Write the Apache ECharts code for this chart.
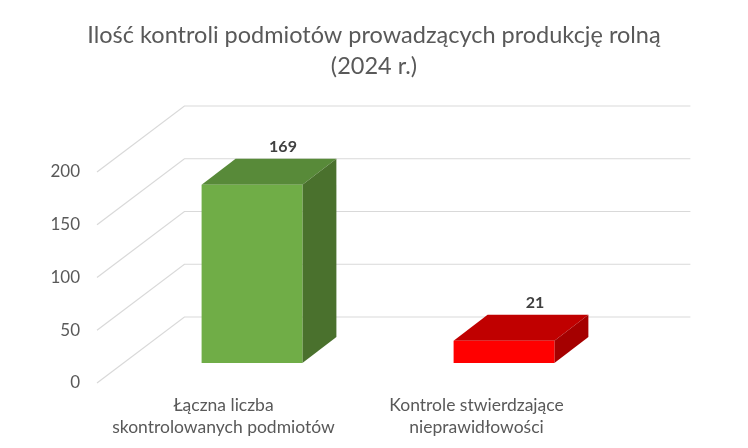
<!DOCTYPE html>
<html><head><meta charset="utf-8">
<script src="https://cdn.jsdelivr.net/npm/echarts@6/dist/echarts.min.js"></script>
<style>html,body{margin:0;padding:0;background:#fff}#c{width:748px;height:448px}</style>
</head><body><div id="c"></div>
<script>
const titleLines = ['Ilość kontroli podmiotów prowadzących produkcję rolną', '(2024 r.)'];
const categories = ['Łączna liczba\nskontrolowanych podmiotów', 'Kontrole stwierdzające\nnieprawidłowości'];
const values = [169, 21];
const yTicks = [0, 50, 100, 150, 200];
const frontColors = ['#70ad47', '#ff0000'];
const topColors = ['#588a39', '#c00000'];
const sideColors = ['#4a712d', '#a50000'];

const FONT = 'Lato, "Open Sans", sans-serif';
const WALL_DX = 87.4, WALL_DY = 66;   // depth of back wall (px)
const BAR_DX = 34, BAR_DY = 26;       // depth of bar (px)

const chart = echarts.init(document.getElementById('c'), null, {renderer: 'canvas'});
chart.setOption({
  animation: false,
  backgroundColor: '#fff',
  title: {
    text: titleLines.join('\n'), left: 'center', top: 15,
    textStyle: {fontFamily: FONT, fontSize: 23.5, fontWeight: 'normal', color: '#595959', lineHeight: 31}
  },
  grid: [
    {left: 97, top: 172, width: 506, height: 211},
    {left: 126, top: 152, width: 504, height: 211}
  ],
  xAxis: [
    {gridIndex: 0, type: 'category', data: categories,
     axisLine: {show: false}, axisTick: {show: false},
     axisLabel: {interval: 0, margin: 11, fontFamily: FONT, fontSize: 17.5, color: '#595959', lineHeight: 22}},
    {gridIndex: 1, type: 'category', data: categories, show: false}
  ],
  yAxis: [
    {gridIndex: 0, type: 'value', min: 0, max: 200, interval: 50,
     axisLine: {show: false}, axisTick: {show: false}, splitLine: {show: false},
     axisLabel: {margin: 17, fontFamily: FONT, fontSize: 17, color: '#595959'}},
    {gridIndex: 1, type: 'value', min: 0, max: 200, interval: 50, show: false, splitLine: {show: false}}
  ],
  series: [
    {
      type: 'custom', xAxisIndex: 0, yAxisIndex: 0, z: 1,
      data: yTicks.map(v => [0, v]),
      encode: {x: 0, y: 1},
      renderItem: function (params, api) {
        const cs = params.coordSys;
        const y = api.coord([0, api.value(1)])[1];
        const x0 = cs.x, x1 = cs.x + cs.width;
        return {
          type: 'polyline',
          shape: {points: [[x0, y], [x0 + WALL_DX, y - WALL_DY], [x1 + WALL_DX, y - WALL_DY]]},
          style: {stroke: '#d9d9d9', lineWidth: 1.2, fill: null}
        };
      }
    },
    {
      type: 'custom', xAxisIndex: 1, yAxisIndex: 1, z: 5,
      data: values.map((v, i) => [i, v]),
      encode: {x: 0, y: 1},
      renderItem: function (params, api) {
        const i = api.value(0);
        const top = api.coord([i, api.value(1)]);
        const base = api.coord([i, 0]);
        const w = api.size([1, 0])[0] * 0.4;
        const xl = top[0] - w / 2, xr = top[0] + w / 2, yt = top[1], yb = base[1];
        return {
          type: 'group',
          children: [
            {type: 'polygon', shape: {points: [[xl, yt], [xr, yt], [xr + BAR_DX, yt - BAR_DY], [xl + BAR_DX, yt - BAR_DY]]},
             style: {fill: topColors[i]}},
            {type: 'polygon', shape: {points: [[xr, yt], [xr + BAR_DX, yt - BAR_DY], [xr + BAR_DX, yb - BAR_DY], [xr, yb]]},
             style: {fill: sideColors[i]}},
            {type: 'rect', shape: {x: xl, y: yt, width: w, height: yb - yt},
             style: {fill: frontColors[i]}},
            {type: 'text', x: top[0] + BAR_DX - 3, y: yt - BAR_DY - 4,
             style: {text: String(api.value(1)), fontFamily: FONT, fontSize: 16, fontWeight: 'bold',
                     fill: '#404040', align: 'center', verticalAlign: 'bottom'}}
          ]
        };
      }
    }
  ]
});
</script></body></html>
